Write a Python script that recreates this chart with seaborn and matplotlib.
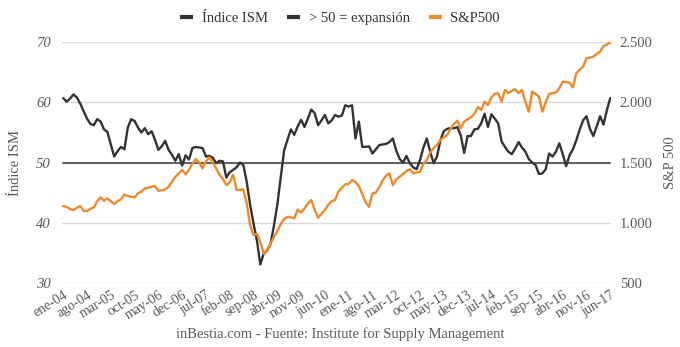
import numpy as np
import pandas as pd
import matplotlib
matplotlib.use("Agg")
import matplotlib.pyplot as plt
from matplotlib.lines import Line2D
import seaborn as sns

# Monthly values, January 2004 - June 2017
ism = [
    60.7, 60.1, 60.6, 61.3, 60.8, 59.8, 58.5, 57.3, 56.4, 56.2, 57.2, 56.8,
    55.5, 55.1, 53.0, 51.0, 51.9, 52.6, 52.2, 55.8, 57.2, 56.9, 55.8, 55.0,
    55.7, 54.7, 55.2, 53.8, 52.1, 52.7, 53.6, 52.1, 51.3, 50.3, 51.4, 49.5,
    51.2, 50.5, 52.4, 52.6, 52.5, 52.4, 51.0, 51.1, 50.8, 49.9, 50.3, 50.2,
    47.5, 48.4, 48.8, 49.2, 50.0, 49.6, 46.8, 43.0, 39.9, 37.1, 33.1, 34.9,
    35.4, 36.5, 39.5, 43.0, 47.5, 52.0, 53.8, 55.5, 54.6, 56.0, 57.1, 55.9,
    57.3, 58.8, 58.2, 56.2, 57.0, 57.9, 56.5, 57.0, 57.9, 57.6, 57.8, 59.5,
    59.3, 59.5, 54.0, 56.8, 52.6, 52.6, 52.7, 51.5, 52.2, 52.9, 53.0, 53.1,
    53.4, 54.0, 52.0, 50.6, 50.0, 51.1, 49.9, 49.2, 48.9, 50.4, 52.5, 54.0,
    51.8, 49.9, 51.0, 53.7, 55.2, 55.6, 55.7, 55.7, 55.9, 54.5, 51.6, 54.4,
    54.4, 55.5, 55.6, 56.5, 58.1, 55.9, 58.0, 57.3, 56.5, 53.5, 52.6, 51.8,
    51.4, 52.3, 53.4, 52.5, 51.8, 50.6, 50.0, 49.6, 48.1, 48.2, 48.9, 51.5,
    51.0, 51.8, 53.2, 51.4, 49.4, 51.2, 52.2, 53.7, 55.5, 57.0, 57.7, 55.6,
    54.4, 56.0, 57.7, 56.3, 58.7, 60.7,
]

sp500 = [
    1139, 1132, 1115, 1106, 1125, 1139, 1100, 1098, 1118, 1128, 1180, 1211,
    1183, 1203, 1180, 1156, 1180, 1195, 1236, 1222, 1216, 1211, 1245, 1258,
    1286, 1290, 1300, 1305, 1266, 1270, 1278, 1300, 1340, 1382, 1410, 1438,
    1402, 1440, 1490, 1529, 1500, 1452, 1510, 1543, 1499, 1452, 1400, 1363,
    1313, 1335, 1400, 1275, 1272, 1278, 1160, 980, 898, 910, 840, 745,
    774, 830, 884, 930, 990, 1030, 1050, 1045, 1037, 1110, 1085, 1120,
    1160, 1189, 1110, 1042, 1075, 1106, 1150, 1180, 1189, 1260, 1290, 1320,
    1322, 1355, 1340, 1305, 1239, 1170, 1133, 1244, 1250, 1295, 1350, 1390,
    1411, 1313, 1360, 1382, 1405, 1430, 1444, 1411, 1418, 1424, 1490, 1521,
    1585, 1620, 1645, 1687, 1710, 1728, 1780, 1820, 1847, 1784, 1840, 1859,
    1875, 1903, 1960, 1936, 2005, 1977, 2040, 2070, 2075, 2005, 2102, 2075,
    2095, 2108, 2075, 2102, 2005, 1922, 2088, 2070, 2046, 1922, 2000, 2069,
    2075, 2080, 2116, 2171, 2168, 2163, 2124, 2241, 2270, 2295, 2365, 2370,
    2378, 2400, 2420, 2467, 2478, 2498,
]

expansion_level = 50

month_abbr = ["ene", "feb", "mar", "abr", "may", "jun",
              "jul", "ago", "sep", "oct", "nov", "dec"]
start_year = 2004
tick_step = 7

n = len(ism)
month_idx = np.arange(n)
tick_pos = list(range(0, n, tick_step))
tick_labels = [f"{month_abbr[i % 12]}-{(start_year + i // 12) % 100:02d}" for i in tick_pos]

df = pd.DataFrame({
    "mes": month_idx,
    "ism": ism,
    "expansion": [expansion_level] * n,
    "sp500": sp500,
})

sns.set_style("white")
plt.rcParams["font.family"] = ["Liberation Serif", "DejaVu Serif"]

c_ism = "#333333"
c_exp = "#5f5f5f"
c_sp = "#ec8a2c"
c_grid = "#d9d9d9"
c_text = "#595959"

fig = plt.figure(figsize=(6.8, 3.47), dpi=100)
ax = fig.add_axes([0.091, 0.184, 0.808, 0.695])
ax2 = ax.twinx()

sns.lineplot(data=df, x="mes", y="expansion", ax=ax, color=c_exp, linewidth=1.4, zorder=3)
sns.lineplot(data=df, x="mes", y="ism", ax=ax, color=c_ism, linewidth=1.7, zorder=4)
sns.lineplot(data=df, x="mes", y="sp500", ax=ax2, color=c_sp, linewidth=1.7)

ax.set_xlim(-0.4, n - 1 + 0.3)
ax.set_ylim(30, 70)
ax2.set_ylim(500, 2500)
ax.set_yticks([30, 40, 50, 60, 70])
ax2.set_yticks([500, 1000, 1500, 2000, 2500])
ax2.set_yticklabels(["500", "1.000", "1.500", "2.000", "2.500"])

ax.grid(axis="y", color=c_grid, linewidth=1.0, zorder=0)
ax.set_axisbelow(True)
ax2.grid(False)
for a in (ax, ax2):
    for s in a.spines.values():
        s.set_visible(False)
    a.tick_params(length=0)

ax.set_xticks(tick_pos)
ax.set_xticklabels(tick_labels, rotation=32, ha="right", rotation_mode="anchor",
                   fontsize=10, color=c_text)
ax.tick_params(axis="x", pad=4)
ax.tick_params(axis="y", labelsize=10.5, labelcolor=c_text, pad=8)
for t in ax.get_yticklabels():
    t.set_fontstyle("italic")
ax2.tick_params(axis="y", labelsize=10.5, labelcolor=c_text, pad=6)

ax.set_xlabel("")
ax.set_ylabel("Índice ISM", fontsize=10.5, color=c_text, labelpad=10)
ax2.set_ylabel("S&P 500", fontsize=10.5, color=c_text, labelpad=8)

handles = [
    Line2D([], [], color=c_ism, linewidth=3, solid_capstyle="butt"),
    Line2D([], [], color=c_ism, linewidth=3, solid_capstyle="butt"),
    Line2D([], [], color=c_sp, linewidth=3, solid_capstyle="butt"),
]
fig.legend(handles, ["Índice ISM", "> 50 = expansión", "S&P500"],
           loc="center", bbox_to_anchor=(0.5, 0.946), ncol=3, frameon=False,
           fontsize=10.5, handlelength=0.9, handletextpad=0.6, columnspacing=1.3,
           labelcolor="#333333")

fig.text(0.5, 0.037, "inBestia.com - Fuente: Institute for Supply Management",
         ha="center", va="center", fontsize=10.5, color=c_text)

fig.savefig("out.png", dpi=100)
